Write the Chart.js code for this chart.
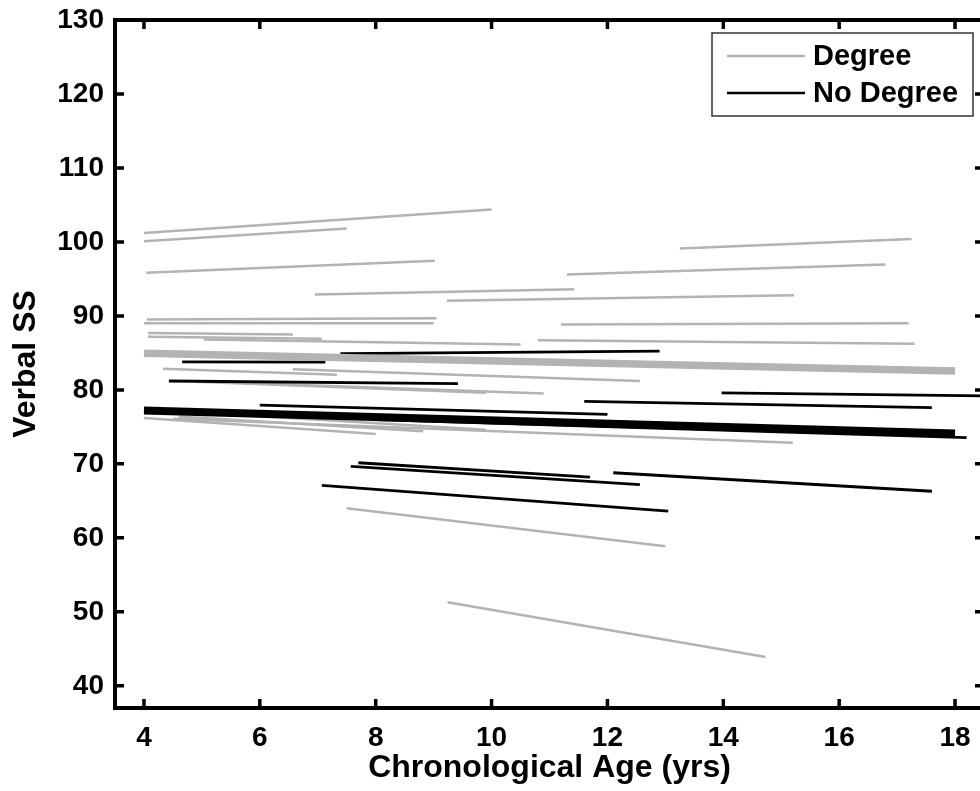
<!DOCTYPE html>
<html>
<head>
<meta charset="utf-8">
<script src="https://cdn.jsdelivr.net/npm/chart.js@4.4.1/dist/chart.umd.min.js"></script>
<style>
  html, body { margin: 0; padding: 0; background: #fff; overflow: hidden; }
  #wrap { width: 990px; height: 791px; }
</style>
</head>
<body>
<div id="wrap"><canvas id="growth"></canvas></div>
<script>
const xTicks = [4, 6, 8, 10, 12, 14, 16, 18];
const yTicks = [40, 50, 60, 70, 80, 90, 100, 110, 120, 130];
const seriesNames = ['Degree', 'No Degree'];

// individual trajectories, Degree group
const degreeAgeStart = [4.0, 4.0, 4.04, 13.25, 11.3, 6.95, 9.23, 4.05, 4.0, 11.2, 10.8, 4.07, 4.07, 5.03, 4.33, 6.57, 4.9, 5.5, 4.0, 4.6, 5.0, 4.5, 7.5, 9.24];
const degreeAgeEnd = [10.0, 7.5, 9.02, 17.25, 16.8, 11.43, 15.22, 9.05, 9.0, 17.2, 17.3, 6.57, 7.07, 10.5, 7.33, 12.56, 9.9, 10.9, 8.0, 8.82, 9.9, 15.2, 13.0, 14.73];
const degreeScoreStart = [101.2, 100.1, 95.85, 99.1, 95.6, 92.9, 92.05, 89.5, 89.0, 88.85, 86.7, 87.7, 87.2, 86.8, 82.85, 82.8, 81.1, 81.0, 76.2, 76.4, 76.9, 76.1, 64.0, 51.3];
const degreeScoreEnd = [104.4, 101.8, 97.45, 100.4, 96.95, 93.6, 92.8, 89.7, 89.0, 89.0, 86.25, 87.5, 86.9, 86.15, 82.05, 81.2, 79.6, 79.5, 74.05, 74.4, 74.6, 72.85, 58.85, 43.9];

// individual trajectories, No Degree group
const noDegreeAgeStart = [4.66, 7.39, 4.43, 6.0, 11.6, 13.97, 8.0, 7.7, 7.57, 7.07, 12.1];
const noDegreeAgeEnd = [7.13, 12.9, 9.42, 12.0, 17.6, 18.5, 18.2, 11.7, 12.56, 13.05, 17.6];
const noDegreeScoreStart = [83.8, 84.9, 81.2, 77.95, 78.45, 79.6, 76.0, 70.15, 69.65, 67.1, 68.8];
const noDegreeScoreEnd = [83.75, 85.25, 80.85, 76.7, 77.6, 79.2, 73.55, 68.2, 67.2, 63.6, 66.3];

// group means
const meanAge = [4, 18];
const degreeMean = [84.95, 82.55];
const noDegreeMean = [77.2, 74.1];

const GRAY = '#b3b3b3';
const BLACK = '#000000';
const FONT = "'Liberation Sans', Arial, sans-serif";

Chart.defaults.font.family = FONT;
Chart.defaults.color = '#000';

function seg(x1, x2, y1, y2, color, width, order) {
  return {
    data: [{ x: x1, y: y1 }, { x: x2, y: y2 }],
    showLine: true,
    borderColor: color,
    backgroundColor: color,
    borderWidth: width,
    pointRadius: 0,
    fill: false,
    order: order
  };
}

const datasets = [];
datasets.push(seg(meanAge[0], meanAge[1], noDegreeMean[0], noDegreeMean[1], BLACK, 8, 0));
datasets.push(seg(meanAge[0], meanAge[1], degreeMean[0], degreeMean[1], GRAY, 7.5, 0));
noDegreeAgeStart.forEach((x, i) => {
  datasets.push(seg(x, noDegreeAgeEnd[i], noDegreeScoreStart[i], noDegreeScoreEnd[i], BLACK, 2.8, 1));
});
degreeAgeStart.forEach((x, i) => {
  datasets.push(seg(x, degreeAgeEnd[i], degreeScoreStart[i], degreeScoreEnd[i], GRAY, 2.5, 2));
});

const boxAxes = {
  id: 'boxAxes',
  afterDraw(chart) {
    const { ctx, chartArea: a, scales: { x, y } } = chart;
    ctx.save();
    ctx.strokeStyle = '#000';
    ctx.lineWidth = 4;
    ctx.strokeRect(a.left, a.top, a.right - a.left, a.bottom - a.top);
    ctx.lineWidth = 3.5;
    ctx.beginPath();
    x.ticks.forEach(t => {
      const px = x.getPixelForValue(t.value);
      ctx.moveTo(px, a.bottom); ctx.lineTo(px, a.bottom - 9);
      ctx.moveTo(px, a.top); ctx.lineTo(px, a.top + 9);
    });
    y.ticks.forEach(t => {
      const py = y.getPixelForValue(t.value);
      ctx.moveTo(a.left, py); ctx.lineTo(a.left + 9, py);
      ctx.moveTo(a.right, py); ctx.lineTo(a.right - 9, py);
    });
    ctx.stroke();
    ctx.restore();
  }
};

const boxLegend = {
  id: 'boxLegend',
  afterDraw(chart) {
    const { ctx } = chart;
    const colors = [GRAY, BLACK];
    ctx.save();
    ctx.fillStyle = '#fff';
    ctx.fillRect(712, 33, 261, 83);
    ctx.strokeStyle = '#333';
    ctx.lineWidth = 1.5;
    ctx.strokeRect(712, 33, 261, 83);
    ctx.font = 'bold 29px ' + FONT;
    ctx.textBaseline = 'middle';
    ctx.textAlign = 'left';
    seriesNames.forEach((name, i) => {
      const ly = 56 + i * 37;
      ctx.strokeStyle = colors[i];
      ctx.lineWidth = 2.5;
      ctx.beginPath();
      ctx.moveTo(727, ly);
      ctx.lineTo(805, ly);
      ctx.stroke();
      ctx.fillStyle = '#000';
      ctx.fillText(name, 813, ly + 1);
    });
    ctx.restore();
  }
};

new Chart(document.getElementById('growth'), {
  type: 'scatter',
  data: { datasets: datasets },
  options: {
    animation: false,
    responsive: true,
    maintainAspectRatio: false,
    layout: { padding: { top: 20, right: 6, left: 0, bottom: 0 } },
    plugins: {
      legend: { display: false },
      tooltip: { enabled: false }
    },
    scales: {
      x: {
        type: 'linear',
        min: 3.5,
        max: 18.5,
        afterBuildTicks: s => { s.ticks = xTicks.map(v => ({ value: v })); },
        afterFit: s => { s.height = 83; s.paddingLeft = 0; s.paddingRight = 0; },
        grid: { display: false, drawTicks: false },
        border: { display: false },
        ticks: { font: { size: 28, weight: 'bold' }, color: '#000', padding: 13 },
        title: {
          display: true,
          text: 'Chronological Age (yrs)',
          font: { size: 32, weight: 'bold' },
          color: '#000',
          padding: { top: 0, bottom: 4 }
        }
      },
      y: {
        type: 'linear',
        min: 37,
        max: 130,
        afterBuildTicks: s => { s.ticks = yTicks.map(v => ({ value: v })); },
        afterFit: s => { s.width = 115; s.paddingTop = 0; s.paddingBottom = 0; },
        grid: { display: false, drawTicks: false },
        border: { display: false },
        ticks: { font: { size: 28, weight: 'bold' }, color: '#000', padding: 11 },
        title: {
          display: true,
          text: 'Verbal SS',
          font: { size: 32, weight: 'bold' },
          color: '#000',
          padding: { top: 7, bottom: 0 }
        }
      }
    }
  },
  plugins: [boxAxes, boxLegend]
});
</script>
</body>
</html>
